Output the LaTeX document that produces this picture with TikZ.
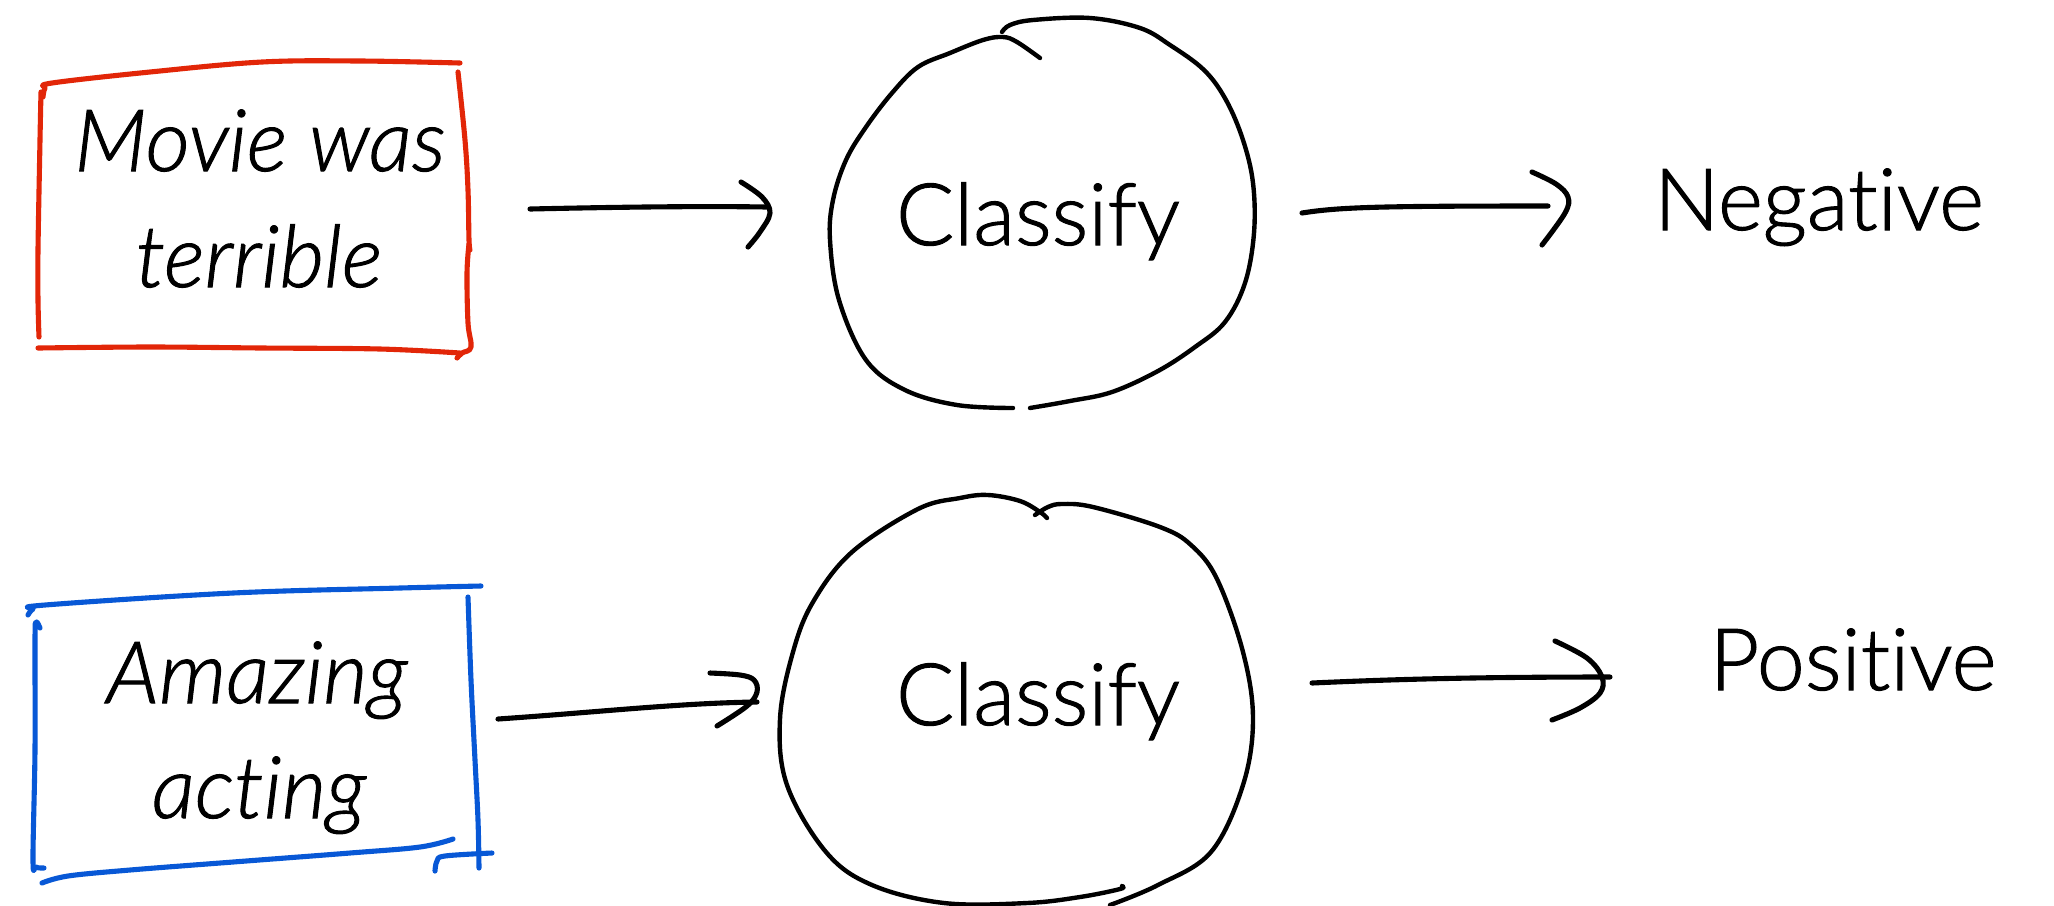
\documentclass[tikz,border=0pt]{standalone}
\usepackage{fontspec}
\setmainfont{Lato Light}[ItalicFont={Lato Light Italic},Ligatures=NoCommon,RawFeature={embolden=1.2}]
\definecolor{penred}{RGB}{226,38,8}
\definecolor{penblue}{RGB}{8,88,214}
\begin{document}
\begin{tikzpicture}[x=0.01cm,y=-0.01cm,
  ink/.style={line width=1.25pt,line cap=round,line join=round},
  arrowink/.style={line width=1.45pt,line cap=round,line join=round},
  redink/.style={line width=1.45pt,line cap=round,line join=round,draw=penred},
  blueink/.style={line width=1.45pt,line cap=round,line join=round,draw=penblue},
  lbl/.style={anchor=base,inner sep=0pt,font=\fontsize{24.5}{28}\selectfont},
  ilbl/.style={anchor=base,inner sep=0pt,font=\fontsize{24.5}{28}\selectfont\itshape}]
\useasboundingbox[fill=white] (0,0) rectangle (2054,905);

% ---------- top row ----------
\node[ilbl] (t1) at (260,171) {Movie was};
\node[ilbl] (t2) at (259,287) {terrible};
% red box
\draw[redink] plot[smooth,tension=0.6] coordinates {(43,97) (45,88) (52,83) (150,72) (262,62) (360,61) (460,63)};
\draw[redink] plot[smooth,tension=0.6] coordinates {(41,92) (40,140) (38,250) (38,300) (39,337)};
\draw[redink] plot[smooth,tension=0.6] coordinates {(458,72) (465,140) (468,190) (469,240) (470,250)};
\draw[redink] plot[smooth,tension=0.6] coordinates {(469,244) (467,273) (468,323) (471,347) (462,353) (457,358)};
\draw[redink] plot[smooth,tension=0.6] coordinates {(38,348) (150,347) (262,348) (380,349) (460,353)};

\node[lbl] (c1) at (1038,245) {Classify};
% top blob
\draw[ink] plot[smooth,tension=0.6] coordinates {(1040,58) (1017,42) (1003,37) (983,40) (950,53) (918,67) (892,93) (866,127) (846,160) (833,200) (830,240) (839,300) (866,360) (905,390) (957,405) (1013,408)};
\draw[ink] plot[smooth,tension=0.6] coordinates {(1002,32) (1010,25) (1033,20) (1090,18) (1140,28) (1170,45) (1204,70) (1226,100) (1243,140) (1253,183) (1254,233) (1245,283) (1225,322) (1195,347) (1158,371) (1112,392) (1070,401) (1030,408)};

\node[lbl] (n1) at (1819,230) {Negative};

% arrow 1
\coordinate (a1s) at (530,209);
\coordinate (a1e) at (767,207);
\draw[arrowink] (a1s) .. controls (620,207) and (700,206) .. (a1e);
\draw[arrowink] plot[smooth,tension=0.6] coordinates {(741,182) (762,197) (770,213) (760,232) (748,247)};
% arrow 2
\coordinate (a2s) at (1302,213);
\coordinate (a2e) at (1548,206);
\draw[arrowink] (a2s) .. controls (1340,207) and (1380,206) .. (a2e);
\draw[arrowink] plot[smooth,tension=0.6] coordinates {(1532,172) (1556,184) (1568,197) (1565,213) (1542,245)};

% ---------- bottom row ----------
\node[ilbl] (t3) at (257,703) {Amazing};
\node[ilbl] (t4) at (259,818) {acting};
% blue box
\draw[blueink] plot[smooth,tension=0.6] coordinates {(28,615) (33,609) (45,605) (233,593) (400,588) (481,586)};
\draw[blueink] plot[smooth,tension=0.6] coordinates {(40,628) (36,622) (35,640) (35,750) (33,860) (36,867) (44,868)};
\draw[blueink] plot[smooth,tension=0.6] coordinates {(42,883) (68,876) (130,870) (233,862) (350,853) (420,847) (453,839)};
\draw[blueink] plot[smooth,tension=0.6] coordinates {(468,597) (471,680) (475,760) (478,820) (479,868)};
\draw[blueink] plot[smooth,tension=0.6] coordinates {(435,871) (437,861) (445,856) (492,853)};

\node[lbl] (c2) at (1038,725) {Classify};
% bottom blob
\draw[ink] plot[smooth,tension=0.6] coordinates {(1047,518) (1040,512) (1020,501) (988,495) (960,498) (918,509) (852,552) (813,602) (793,652) (780,719) (787,785) (826,852) (872,885) (944,903) (1027,903) (1080,897) (1120,889) (1122,886)};
\draw[ink] plot[smooth,tension=0.6] coordinates {(1035,515) (1048,507) (1062,504) (1093,507) (1160,527) (1191,545) (1217,579) (1243,652) (1253,719) (1243,785) (1211,852) (1158,885) (1110,905)};

\node[lbl] (p2) at (1853,690) {Positive};

% arrow 3
\coordinate (a3s) at (498,719);
\coordinate (a3e) at (757,702);
\draw[arrowink] (a3s) .. controls (600,712) and (680,703) .. (a3e);
\draw[arrowink] plot[smooth,tension=0.6] coordinates {(710,673) (740,675) (754,680) (757,692) (747,706) (717,726)};
% arrow 4
\coordinate (a4s) at (1312,683);
\coordinate (a4e) at (1610,677);
\draw[arrowink] (a4s) .. controls (1400,679) and (1480,677) .. (a4e);
\draw[arrowink] plot[smooth,tension=0.6] coordinates {(1555,641) (1587,658) (1602,677) (1600,693) (1580,708) (1552,720)};
\end{tikzpicture}
\end{document}
